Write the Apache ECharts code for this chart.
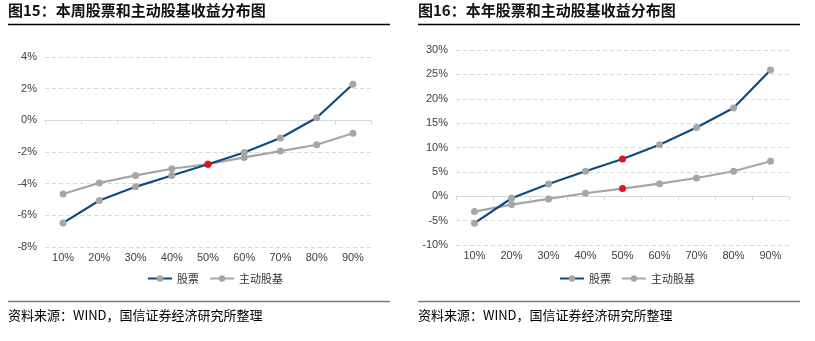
<!DOCTYPE html>
<html>
<head>
<meta charset="utf-8">
<script src="https://cdn.jsdelivr.net/npm/echarts@6/dist/echarts.min.js"></script>
<style>
html,body{margin:0;padding:0;background:#fff;}
#c{width:815px;height:341px;}
</style>
</head>
<body>
<div id="c"></div>
<script>
const categories = ['10%','20%','30%','40%','50%','60%','70%','80%','90%'];
const weekStock = [-6.48, -5.06, -4.2, -3.48, -2.77, -2.03, -1.12, 0.16, 2.28];
const weekFund = [-4.65, -3.95, -3.48, -3.06, -2.77, -2.34, -1.94, -1.54, -0.82];
const yearStock = [-5.53, -0.41, 2.52, 5.12, 7.64, 10.57, 14.1, 18.1, 25.9];
const yearFund = [-3.15, -1.71, -0.55, 0.61, 1.57, 2.58, 3.75, 5.12, 7.17];
const titleLeft = '图15：本周股票和主动股基收益分布图';
const titleRight = '图16：本年股票和主动股基收益分布图';
const sourceText = '资料来源：WIND，国信证券经济研究所整理';
const seriesNames = ['股票', '主动股基'];

const BLUE = '#0F4B80';
const GRAY = '#A6A6A6';
const RED = '#E3141C';
const FONT = '"Noto Sans CJK SC", "Liberation Sans", sans-serif';
const LBL = '"Liberation Sans", "Noto Sans CJK SC", sans-serif';

function pts(arr) {
  return arr.map((v, i) => ({
    value: v,
    itemStyle: { color: categories[i] === '50%' ? RED : GRAY }
  }));
}

function xAxes(gridIndex) {
  return [
    {
      type: 'category', gridIndex: gridIndex, data: categories, position: 'bottom',
      axisLine: { show: false, onZero: false }, axisTick: { show: false },
      axisLabel: { color: '#404040', fontSize: 11, fontFamily: LBL, margin: 5 },
      splitLine: { show: false }
    },
    {
      type: 'category', gridIndex: gridIndex, data: categories, position: 'bottom',
      axisLine: { show: true, onZero: true, lineStyle: { color: '#D9D9D9', width: 1 } },
      axisTick: { show: true, length: 4, lineStyle: { color: '#D9D9D9' } },
      axisLabel: { show: false }, splitLine: { show: false }
    }
  ];
}

function yAxis(gridIndex, min, max, interval) {
  return {
    type: 'value', gridIndex: gridIndex, min: min, max: max, interval: interval,
    axisLine: { show: false }, axisTick: { show: false },
    axisLabel: { color: '#404040', fontSize: 11, fontFamily: LBL, margin: 8, formatter: v => v + '%' },
    splitLine: { show: true, lineStyle: { color: '#D9D9D9', type: [4, 3], width: 1 } }
  };
}

function lineSeries(name, data, color, xi, yi) {
  return {
    name: name, type: 'line', xAxisIndex: xi, yAxisIndex: yi, data: pts(data),
    symbol: 'circle', symbolSize: 7, showSymbol: true,
    lineStyle: { color: color, width: 2.2 },
    itemStyle: { color: GRAY },
    color: color,
    z: name.trim() === seriesNames[0] ? 3 : 2
  };
}

const chart = echarts.init(document.getElementById('c'), null, { renderer: 'canvas' });
const xa = xAxes(0).concat(xAxes(1));
const option = {
  animation: false,
  backgroundColor: '#fff',
  grid: [
    { left: 45, top: 57, width: 326, height: 190 },
    { left: 456, top: 50, width: 333, height: 195 }
  ],
  xAxis: xa,
  yAxis: [yAxis(0, -8, 4, 2), yAxis(1, -10, 30, 5)],
  legend: [
    {
      left: 142, top: 268, itemWidth: 24, itemHeight: 8, itemGap: 10,
      textStyle: { fontSize: 11, color: '#333', fontFamily: FONT },
      data: [
        { name: seriesNames[0], itemStyle: { color: GRAY } , lineStyle: { color: BLUE } },
        { name: seriesNames[1], itemStyle: { color: GRAY }, lineStyle: { color: GRAY } }
      ]
    },
    {
      left: 554, top: 268, itemWidth: 24, itemHeight: 8, itemGap: 10,
      textStyle: { fontSize: 11, color: '#333', fontFamily: FONT },
      data: [
        { name: seriesNames[0] + ' ', itemStyle: { color: GRAY }, lineStyle: { color: BLUE } },
        { name: seriesNames[1] + ' ', itemStyle: { color: GRAY }, lineStyle: { color: GRAY } }
      ],
      formatter: n => n.trim()
    }
  ],
  series: [
    lineSeries(seriesNames[1], weekFund, GRAY, 0, 0),
    lineSeries(seriesNames[0], weekStock, BLUE, 0, 0),
    lineSeries(seriesNames[1] + ' ', yearFund, GRAY, 2, 1),
    lineSeries(seriesNames[0] + ' ', yearStock, BLUE, 2, 1)
  ],
  graphic: [
    { type: 'text', left: 8, top: 3, style: { text: titleLeft, font: 'bold 15px ' + FONT, fill: '#111' } },
    { type: 'text', left: 418, top: 3, style: { text: titleRight, font: 'bold 15px ' + FONT, fill: '#111' } },
    { type: 'line', shape: { x1: 8, y1: 24.5, x2: 390, y2: 24.5 }, style: { stroke: '#000', lineWidth: 1.3 } },
    { type: 'line', shape: { x1: 418, y1: 24.5, x2: 800, y2: 24.5 }, style: { stroke: '#000', lineWidth: 1.3 } },
    { type: 'line', shape: { x1: 8, y1: 301.5, x2: 390, y2: 301.5 }, style: { stroke: '#777', lineWidth: 1.5 } },
    { type: 'line', shape: { x1: 418, y1: 301.5, x2: 800, y2: 301.5 }, style: { stroke: '#777', lineWidth: 1.5 } },
    { type: 'text', left: 8, top: 309, style: { text: sourceText, font: '13px ' + FONT, fill: '#000' } },
    { type: 'text', left: 418, top: 309, style: { text: sourceText, font: '13px ' + FONT, fill: '#000' } }
  ]
};
chart.setOption(option);
</script>
</body>
</html>
